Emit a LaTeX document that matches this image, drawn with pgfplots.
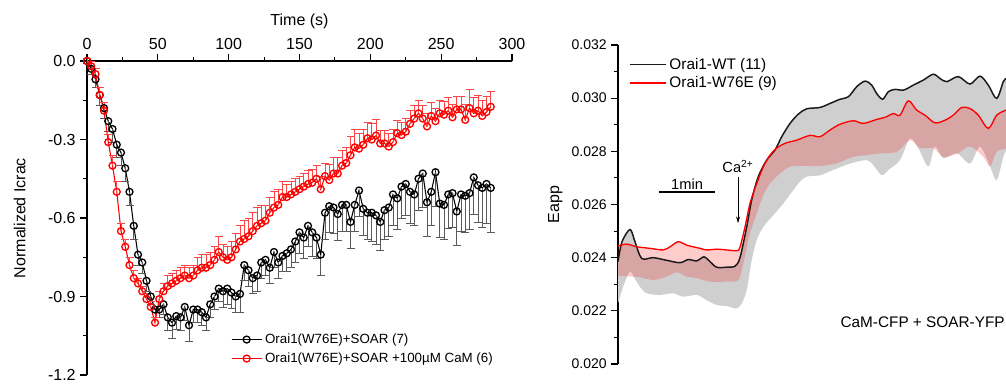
\documentclass[border=0pt]{standalone}
\usepackage{pgfplots}
\pgfplotsset{compat=1.18}
\usepackage{pgfplotstable}
\usepgfplotslibrary{fillbetween}
\usetikzlibrary{arrows.meta}
\usepackage{fontspec}
\setmainfont{Liberation Sans}

\definecolor{ered}{RGB}{255,70,70}
\definecolor{egray}{RGB}{90,90,90}
\definecolor{wtblack}{RGB}{25,25,25}

\pgfplotstableread{
t v e
0 0.00 0.01
3 -0.03 0.02
6 -0.07 0.03
9 -0.13 0.04
12 -0.18 0.04
15 -0.23 0.04
18 -0.26 0.05
21 -0.32 0.05
24 -0.35 0.05
27 -0.41 0.05
30 -0.50 0.05
33 -0.63 0.05
36 -0.74 0.04
39 -0.77 0.04
42 -0.84 0.04
45 -0.90 0.03
48 -0.95 0.03
51 -0.95 0.03
54 -0.93 0.04
57 -0.98 0.05
60 -1.00 0.06
63 -0.975 0.05
66 -0.98 0.05
69 -0.94 0.05
72 -1.01 0.06
75 -0.95 0.05
78 -0.95 0.05
81 -0.96 0.05
84 -0.98 0.05
87 -0.93 0.05
90 -0.90 0.05
93 -0.87 0.05
96 -0.88 0.06
99 -0.87 0.06
102 -0.885 0.06
105 -0.90 0.06
108 -0.89 0.07
111 -0.78 0.06
114 -0.80 0.06
117 -0.83 0.06
120 -0.82 0.06
123 -0.77 0.06
126 -0.76 0.06
129 -0.79 0.06
132 -0.73 0.06
135 -0.77 0.06
138 -0.745 0.06
141 -0.735 0.07
144 -0.72 0.07
147 -0.69 0.08
150 -0.655 0.08
153 -0.675 0.08
156 -0.63 0.08
159 -0.655 0.09
162 -0.675 0.08
165 -0.74 0.08
168 -0.58 0.10
171 -0.555 0.10
174 -0.56 0.10
177 -0.585 0.10
180 -0.55 0.10
183 -0.55 0.10
186 -0.615 0.10
189 -0.55 0.10
192 -0.495 0.10
195 -0.565 0.10
198 -0.58 0.10
201 -0.58 0.11
204 -0.59 0.11
207 -0.615 0.11
210 -0.57 0.11
213 -0.56 0.11
216 -0.51 0.12
219 -0.525 0.12
222 -0.48 0.12
225 -0.47 0.12
228 -0.50 0.12
231 -0.51 0.12
234 -0.45 0.12
237 -0.43 0.13
240 -0.54 0.13
243 -0.50 0.13
246 -0.425 0.13
249 -0.545 0.13
252 -0.55 0.13
255 -0.51 0.13
258 -0.505 0.13
261 -0.575 0.13
264 -0.51 0.14
267 -0.515 0.14
270 -0.505 0.14
273 -0.445 0.14
276 -0.475 0.14
279 -0.485 0.15
282 -0.47 0.15
285 -0.485 0.17
}\blk

\pgfplotstableread{
t v e
0 0.00 0.01
3 -0.02 0.02
6 -0.05 0.02
9 -0.13 0.03
12 -0.19 0.03
15 -0.31 0.03
18 -0.40 0.04
21 -0.50 0.04
24 -0.65 0.03
27 -0.71 0.03
30 -0.78 0.03
33 -0.83 0.03
36 -0.85 0.02
39 -0.88 0.02
42 -0.91 0.02
45 -0.94 0.02
48 -1.00 0.02
51 -0.91 0.03
54 -0.88 0.03
57 -0.86 0.04
60 -0.85 0.04
63 -0.84 0.04
66 -0.83 0.04
69 -0.82 0.04
72 -0.83 0.04
75 -0.82 0.04
78 -0.80 0.05
81 -0.79 0.05
84 -0.79 0.05
87 -0.78 0.05
90 -0.76 0.05
93 -0.73 0.06
96 -0.75 0.05
99 -0.76 0.05
102 -0.75 0.06
105 -0.72 0.06
108 -0.69 0.06
111 -0.68 0.07
114 -0.67 0.07
117 -0.65 0.07
120 -0.63 0.07
123 -0.62 0.07
126 -0.61 0.06
129 -0.58 0.06
132 -0.56 0.06
135 -0.55 0.06
138 -0.52 0.06
141 -0.52 0.05
144 -0.51 0.05
147 -0.50 0.05
150 -0.49 0.05
153 -0.48 0.05
156 -0.47 0.05
159 -0.465 0.05
162 -0.45 0.05
165 -0.49 0.05
168 -0.44 0.05
171 -0.455 0.06
174 -0.43 0.06
177 -0.43 0.06
180 -0.40 0.06
183 -0.39 0.06
186 -0.36 0.07
189 -0.33 0.07
192 -0.335 0.06
195 -0.32 0.06
198 -0.295 0.06
201 -0.30 0.06
204 -0.285 0.06
207 -0.315 0.05
210 -0.315 0.05
213 -0.327 0.05
216 -0.31 0.05
219 -0.276 0.05
222 -0.283 0.05
225 -0.27 0.05
228 -0.24 0.05
231 -0.22 0.05
234 -0.20 0.05
237 -0.22 0.05
240 -0.25 0.05
243 -0.21 0.05
246 -0.23 0.05
249 -0.20 0.05
252 -0.205 0.05
255 -0.19 0.05
258 -0.215 0.05
261 -0.185 0.05
264 -0.185 0.05
267 -0.225 0.06
270 -0.18 0.07
273 -0.20 0.06
276 -0.19 0.06
279 -0.21 0.06
282 -0.195 0.06
285 -0.175 0.06
}\rdd

\pgfplotstableread{
t v
0 0.02385
4.3 0.0246
12.9 0.02506
18.2 0.0246
25.4 0.02397
37.8 0.0240
52.2 0.0239
66.4 0.02381
75.3 0.02393
84.3 0.02388
92.1 0.02403
98.6 0.02385
105.7 0.02364
116.5 0.02364
125.4 0.02368
130.7 0.0240
137.9 0.02516
143.2 0.02617
150.3 0.02705
159.3 0.02767
168.2 0.02805
175.4 0.02855
184.3 0.02905
193.2 0.0294
202.2 0.0296
216.4 0.02965
227.1 0.0298
237.9 0.02996
246.8 0.03005
255.7 0.03043
264.6 0.03064
271.8 0.03049
277.2 0.03017
283.6 0.02996
289.6 0.03024
296.8 0.03033
305.7 0.0303
316.4 0.03049
327.1 0.03068
337.8 0.0309
345 0.03074
352.2 0.03062
364.6 0.03081
377.1 0.03053
387.8 0.03083
396.7 0.03049
405.7 0.02999
412.8 0.03062
415.7 0.03074
}\wtm

\pgfplotstableread{
t v
0 0.02228
6.4 0.0230
12.9 0.02347
18.2 0.0232
23.6 0.0229
30.7 0.02266
45 0.0226
59.2 0.02266
70 0.02253
84.3 0.0226
95 0.0224
105.7 0.02222
116.5 0.02218
127.2 0.02209
132.5 0.02228
137.9 0.02278
143.2 0.0239
148.6 0.02466
155.7 0.02516
166.4 0.0256
177.1 0.02604
187.8 0.02654
195 0.02686
202.2 0.02705
216.4 0.0271
230.7 0.0273
248.6 0.02754
266.4 0.02767
273.5 0.02748
282.5 0.0271
289.6 0.0273
302.1 0.02767
312.8 0.02848
321.7 0.02812
332.5 0.02743
339.6 0.02818
348.5 0.02774
362.9 0.02793
377.1 0.02754
387.8 0.02818
398.6 0.02743
405.7 0.02692
412.8 0.0278
415.7 0.028
}\wtl

\pgfplotstableread{
t v
0 0.02444
9.3 0.02451
20 0.02441
34.3 0.02435
48.5 0.02429
55.7 0.02441
64.6 0.0246
73.6 0.02447
87.9 0.02435
95 0.02429
105.7 0.02432
116.5 0.02429
127.2 0.02426
130.7 0.0244
136.1 0.02516
141.4 0.02604
148.6 0.02679
155.7 0.02742
162.9 0.02786
170 0.02812
178.9 0.0283
191.5 0.02842
205.7 0.0286
216.4 0.02855
227.1 0.0288
237.9 0.02902
252.1 0.02915
262.8 0.02905
277.2 0.0292
286.1 0.02928
295 0.02942
302.1 0.02936
311 0.0299
320 0.02955
328.9 0.02936
339.6 0.02907
350.3 0.02917
359.2 0.02936
368.2 0.02965
377.1 0.02961
386 0.02936
396.7 0.02886
405.7 0.02936
415.7 0.02955
}\mum

\pgfplotstableread{
t v
0 0.02331
12.9 0.02329
23.6 0.02326
37.8 0.02316
52.2 0.02329
62.9 0.02345
73.6 0.02329
84.3 0.02323
98.6 0.0231
116.5 0.0231
128.9 0.02316
134.2 0.02378
141.4 0.02491
148.6 0.02566
155.7 0.02635
162.9 0.02679
173.6 0.02717
184.3 0.02742
198.5 0.02745
216.4 0.02745
233.3 0.02754
252.1 0.02779
266.4 0.02786
280.7 0.02792
298.6 0.02798
312.8 0.02842
323.6 0.02812
337.8 0.02812
348.5 0.02779
362.9 0.0279
377.1 0.02818
391.4 0.02779
398.6 0.02743
405.7 0.02798
415.7 0.0281
}\mul

\pgfplotsset{
  common/.style={
    scale only axis,
    anchor=south west,
    tick align=outside,
    axis line style={line width=0.8pt},
    every tick/.append style={black, line width=0.8pt},
    major tick length=5pt,
    minor tick length=2.8pt,
    /pgf/number format/assume math mode=true,
    label style={font=\fontsize{12}{14}\selectfont},
  },
}

\begin{document}
\begin{tikzpicture}
\path (0,0) rectangle (754.5pt,285.75pt);

% ---------------- left panel ----------------
\begin{axis}[common,
  at={(65.25pt,4.5pt)},
  width=318.75pt, height=235.5pt,
  xmin=0, xmax=300, ymin=-1.2, ymax=0,
  axis x line*=top, axis y line*=left,
  clip=false,
  xtick={0,50,100,150,200,250,300},
  xticklabels={0,50,100,150,200,250,300},
  minor x tick num=1,
  ytick={-1.2,-0.9,-0.6,-0.3,0},
  yticklabels={-1.2,-0.9,-0.6,-0.3,0.0},
  minor y tick num=1,
  tick label style={font=\fontsize{12}{14}\selectfont},
  xlabel={Time (s)},
  ylabel={Normalized Icrac},
  ylabel shift=10pt,
  legend style={at={(0.335,0.145)}, anchor=north west, draw=none, fill=none,
    row sep=1.5pt, inner sep=1pt},
  legend cell align=left,
  legend image code/.code={\draw[mark repeat=2,mark phase=2,#1] plot coordinates {(0cm,0cm) (0.4cm,0cm) (0.8cm,0cm)};},
]
\addplot[black, line width=0.8pt, mark=o, mark size=2.6pt,
  mark options={fill=white, line width=1pt},
  error bars/.cd, y dir=minus, y explicit,
  error bar style={egray, line width=0.6pt},
  error mark options={egray, line width=0.6pt, rotate=90, mark size=3pt}]
  table[x=t, y=v, y error=e]{\blk};
\addlegendentry{\fontsize{10}{12}\selectfont Orai1(W76E)+SOAR (7)}
\addplot[red, line width=0.8pt, mark=o, mark size=2.6pt,
  mark options={fill=white, line width=1pt},
  error bars/.cd, y dir=plus, y explicit,
  error bar style={ered, line width=0.6pt},
  error mark options={ered, line width=0.6pt, rotate=90, mark size=3pt}]
  table[x=t, y=v, y error=e]{\rdd};
\addlegendentry{\fontsize{10}{12}\selectfont Orai1(W76E)+SOAR +100\textmu M CaM (6)}
\end{axis}

% ---------------- right panel ----------------
\begin{axis}[common,
  at={(463.5pt,12.75pt)},
  width=291pt, height=239.25pt,
  xmin=0, xmax=415.7, ymin=0.020, ymax=0.032,
  hide x axis, axis y line*=left,
  scaled y ticks=false,
  ytick={0.020,0.022,0.024,0.026,0.028,0.030,0.032},
  yticklabels={0.020,0.022,0.024,0.026,0.028,0.030,0.032},
  minor y tick num=1,
  tick label style={font=\fontsize{10.5}{12}\selectfont},
  ylabel={Eapp},
  legend style={at={(0.025,0.972)}, anchor=north west, draw=none, fill=none,
    row sep=0pt, inner sep=1pt},
  legend cell align=left,
  legend image code/.code={\draw[#1] (0cm,0cm) -- (0.95cm,0cm);},
]
\addplot[draw=none, name path=wtm, smooth, forget plot] table[x=t,y=v]{\wtm};
\addplot[draw=none, name path=wtl, smooth, forget plot] table[x=t,y=v]{\wtl};
\addplot[draw=none, name path=mum, smooth, forget plot] table[x=t,y=v]{\mum};
\addplot[draw=none, name path=mul, smooth, forget plot] table[x=t,y=v]{\mul};
\addplot[fill=black!19, draw=none, forget plot] fill between[of=wtm and wtl];
\addplot[fill=red, fill opacity=0.2, draw=none, forget plot] fill between[of=mum and mul];
\addplot[draw=wtblack, line width=1.1pt, smooth, forget plot] table[x=t,y=v]{\wtm};
\addplot[draw=red, line width=1pt, smooth, forget plot] table[x=t,y=v]{\mum};
\addlegendimage{draw=wtblack, line width=1.1pt}
\addlegendentry{\fontsize{11.5}{13}\selectfont Orai1-WT (11)}
\addlegendimage{draw=red, line width=1.1pt}
\addlegendentry{\fontsize{11.5}{13}\selectfont Orai1-W76E (9)}

\draw[line width=0.8pt] (axis cs:43.9,0.02647) -- (axis cs:103.9,0.02647);
\node[anchor=south, inner sep=1.5pt, font=\fontsize{11}{13}\selectfont] at (axis cs:74,0.02647) {1min};
\draw[line width=0.5pt, -{Stealth[length=5pt, width=3pt]}] (axis cs:128.6,0.02703) -- (axis cs:128.6,0.0253);
\node[anchor=south, inner sep=3pt, font=\fontsize{11}{13}\selectfont] at (axis cs:128.6,0.02703) {Ca\textsuperscript{2+}};
\node[anchor=east, inner sep=0.5pt, font=\fontsize{11.5}{13}\selectfont] at (axis cs:415.2,0.02158) {CaM-CFP + SOAR-YFP};
\end{axis}
\end{tikzpicture}
\end{document}
